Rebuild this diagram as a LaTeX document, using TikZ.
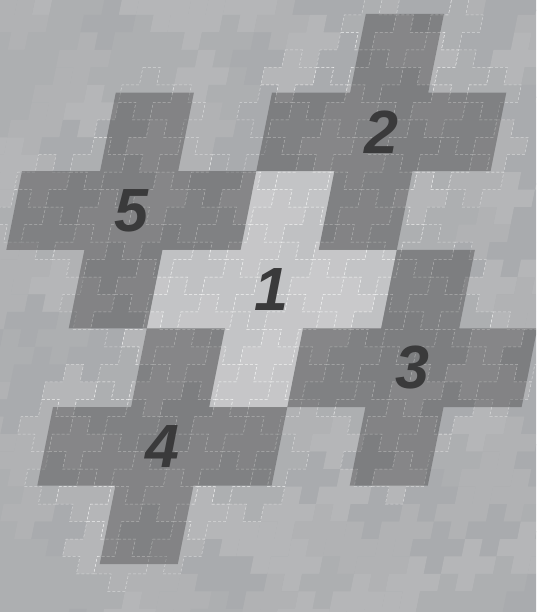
\documentclass[tikz,border=0pt]{standalone}
\usepackage{fontspec}
\setsansfont{Liberation Sans}
\usepackage{tikz}
\definecolor{tile1}{HTML}{A9ABAE}
\definecolor{tile2}{HTML}{ADAFB1}
\definecolor{tile3}{HTML}{B1B2B4}
\definecolor{tile4}{HTML}{B5B6B8}
\definecolor{numGray}{HTML}{3A3A3B}
\tikzset{
  tileedge/.style={draw=white, draw opacity=0.5, line width=0.5pt, dash pattern=on 3pt off 2pt},
  darkcross/.style={fill=black, fill opacity=0.26},
  lightcross/.style={fill=white, fill opacity=0.27},
  numlabel/.style={font=\sffamily\bfseries\itshape\fontsize{61}{61}\selectfont, text=numGray, inner sep=0pt}
}
% plus shape around centre cell (#1,#2), rows counted downwards
\newcommand\crosspath[2]{(#1,#2-1) -- ++(1,0) -- ++(0,1) -- ++(1,0) -- ++(0,1) -- ++(-1,0) -- ++(0,1) -- ++(-1,0) -- ++(0,-1) -- ++(-1,0) -- ++(0,-1) -- ++(1,0) -- cycle}
% \cin=1 if small cell (#1,#2) lies in one of the five big crosses
\newcommand\cellin[2]{%
  \pgfmathsetmacro\bigC{-0.4955+((#1)+0.5)/4.5}%
  \pgfmathsetmacro\bigR{0.0127+((#2)+0.5)/4.5}%
  \pgfmathtruncatemacro\ci{floor(\bigC)}%
  \pgfmathtruncatemacro\ri{floor(\bigR)}%
  \pgfmathtruncatemacro\dd{Mod(\ci-2*(\ri)-2,5)}%
  \pgfmathtruncatemacro\ca{\ci+(\dd==4)-(\dd==1)}%
  \pgfmathtruncatemacro\cb{\ri+(\dd==2)-(\dd==3)}%
  \pgfmathtruncatemacro\cin{((\ca-3)*(\ca-3)+(\cb-3)*(\cb-3)<=5)}%
}
\begin{document}
\begin{tikzpicture}
  \useasboundingbox (0,0) rectangle (536pt,-612pt);
  \clip (0,0) rectangle (536pt,-612pt);
  \fill[tile2] (0,0) rectangle (536pt,-612pt);
  \pgfmathsetseed{11}
  % small tiles
  \begin{scope}[shift={(14.5pt,-15pt)}, x={(17.356pt,0pt)}, y={(-3.489pt,-17.467pt)}]
    \foreach \r in {-2,...,36}{
      \foreach \c in {-3,...,40}{
        \pgfmathtruncatemacro\isctr{Mod(\c-2*(\r),5)==0}
        \ifnum\isctr=1
          \pgfmathrandominteger\shade{1}{4}
          \fill[tile\shade] \crosspath{\c}{\r};
        \fi
      }
    }
    \foreach \r in {-2,...,36}{
      \foreach \c in {-3,...,40}{
        \pgfmathtruncatemacro\isctr{Mod(\c-2*(\r),5)==0}
        \ifnum\isctr=1
          \def\hits{0}
          \cellin{\c}{\r}\pgfmathtruncatemacro\hits{\hits+\cin}
          \cellin{\c+1}{\r}\pgfmathtruncatemacro\hits{\hits+\cin}
          \cellin{\c-1}{\r}\pgfmathtruncatemacro\hits{\hits+\cin}
          \cellin{\c}{\r+1}\pgfmathtruncatemacro\hits{\hits+\cin}
          \cellin{\c}{\r-1}\pgfmathtruncatemacro\hits{\hits+\cin}
          \ifnum\hits>0
            \draw[tileedge] \crosspath{\c}{\r};
          \fi
        \fi
      }
    }
  \end{scope}
  % big crosses
  \begin{scope}[shift={(53.4pt,-14pt)}, x={(78.1pt,0pt)}, y={(-15.7pt,-78.6pt)}]
    \fill[lightcross] \crosspath{3}{3};
    \foreach \cc/\rr in {4/1,1/2,5/4,2/5}
      \fill[darkcross] \crosspath{\cc}{\rr};
    \node[numlabel] (n1) at (3.5,3.5) {1};
    \node[numlabel] (n2) at (4.5,1.5) {2};
    \node[numlabel] (n3) at (5.5,4.5) {3};
    \node[numlabel] (n4) at (2.5,5.5) {4};
    \node[numlabel] (n5) at (1.5,2.5) {5};
  \end{scope}
\end{tikzpicture}
\end{document}
